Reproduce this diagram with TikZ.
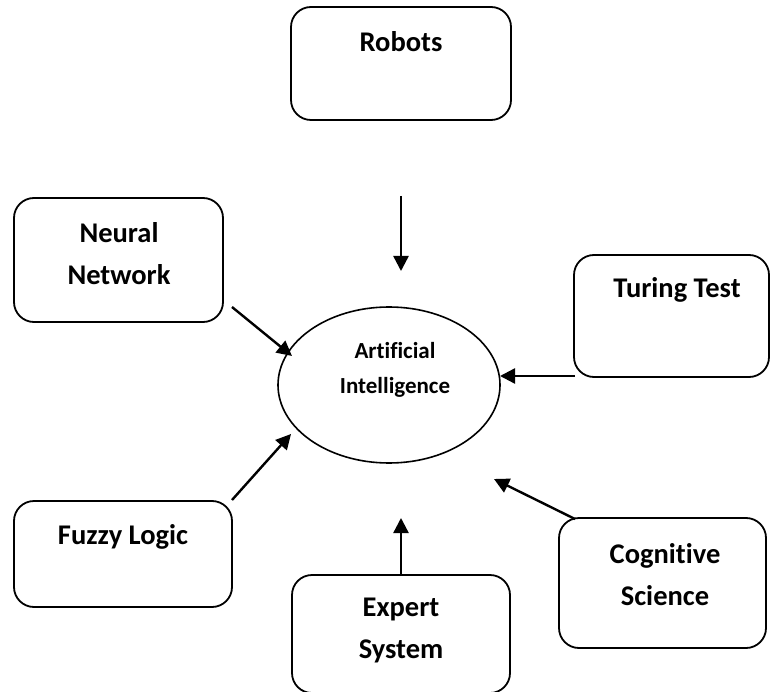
\documentclass[tikz,border=0pt]{standalone}
\usepackage{fontspec}
\setmainfont{Carlito}[Ligatures={NoCommon,NoRare,NoContextual}]
\usetikzlibrary{arrows.meta,shapes.geometric}
\begin{document}
\begin{tikzpicture}[x=1pt,y=-1pt,
  box/.style={draw=black,line width=1.8pt,rounded corners=20pt,inner sep=0pt},
  lbl/.style={font=\bfseries\fontsize{28.5}{42}\selectfont,align=center,inner sep=0pt},
  conn/.style={line width=2.4pt,-{Triangle[length=15pt,width=15pt]}}]
\useasboundingbox (0,0) rectangle (770,692);
% boxes
\node[box,minimum width=220pt,minimum height=113pt] (robots) at (401,63.5) {};
\node[box,minimum width=209pt,minimum height=124pt] (neural) at (118.5,260) {};
\node[box,minimum width=195pt,minimum height=122pt] (turing) at (671.5,316) {};
\node[box,minimum width=218pt,minimum height=106pt] (fuzzy) at (123,554) {};
\node[box,minimum width=218pt,minimum height=118pt] (expert) at (401,634) {};
\node[box,minimum width=207pt,minimum height=130pt] (cogn) at (662.5,583) {};
\node[draw=black,line width=1.6pt,ellipse,minimum width=222pt,minimum height=156pt,inner sep=0pt] (ai) at (389,385) {};
% labels
\node[lbl] (trobots) at (401,42) {Robots};
\node[lbl] (tneural) at (119,254) {Neural\\Network};
\node[lbl] (tturing) at (677,290) {Turing Test};
\node[lbl] (tfuzzy) at (123,537) {Fuzzy Logic};
\node[lbl] (texpert) at (401,630) {Expert\\System};
\node[lbl] (tcogn) at (665,574.5) {Cognitive\\Science};
\node[lbl,font=\bfseries\fontsize{23}{35}\selectfont] (tai) at (395,370) {Artificial\\Intelligence};
% connector ends
\coordinate (r1) at (401,196); \coordinate (r2) at (401,271);
\coordinate (n1) at (232,307); \coordinate (n2) at (292,356);
\coordinate (t1) at (575,376); \coordinate (t2) at (500,376);
\coordinate (f1) at (232,500); \coordinate (f2) at (291,434);
\coordinate (e1) at (401,576); \coordinate (e2) at (401,518);
\coordinate (c1) at (575,519); \coordinate (c2) at (494,479);
\draw[conn] (r1) -- (r2);
\draw[conn] (n1) -- (n2);
\draw[conn] (t1) -- (t2);
\draw[conn] (f1) -- (f2);
\draw[conn] (e1) -- (e2);
\draw[conn] (c1) -- (c2);
\end{tikzpicture}
\end{document}
